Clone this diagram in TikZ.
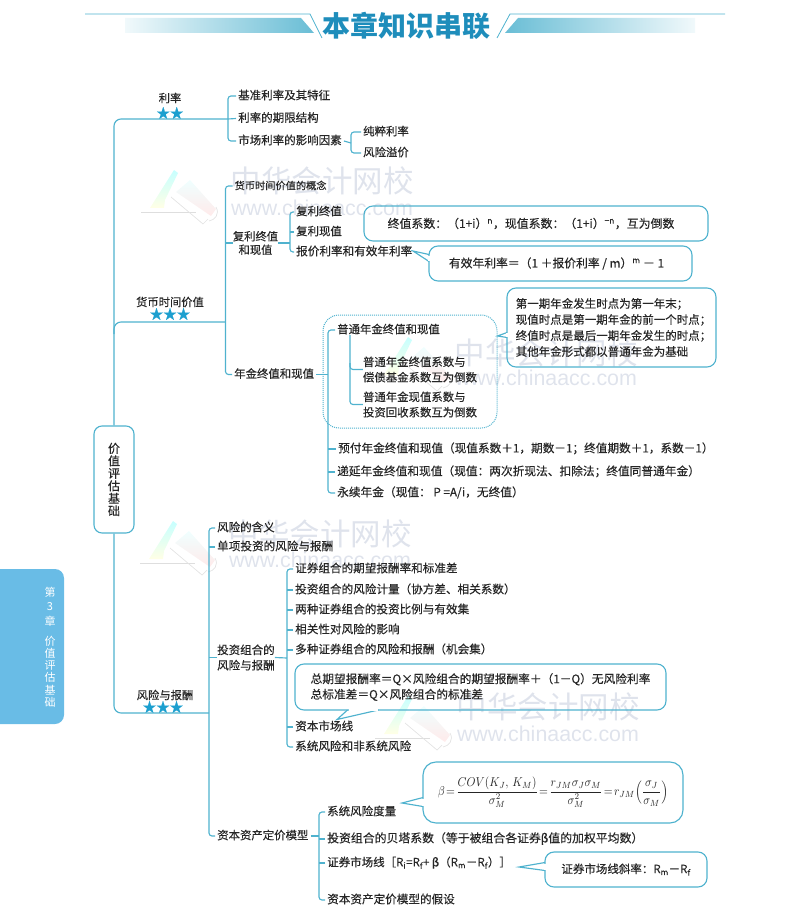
\documentclass[tikz,border=0pt]{standalone}
\usepackage{fontspec}
\usepackage{graphicx}
\usetikzlibrary{calc}
\setmainfont{Noto Sans CJK SC}[RawFeature={embolden=0.3}]
\newfontfamily\wmfont{Liberation Sans}
\newfontfamily\wmcnfont{Noto Sans CJK SC}
\definecolor{ln}{HTML}{4FB2CE}
\definecolor{ink}{HTML}{262626}
\definecolor{titleblue}{HTML}{1E8DBB}
\definecolor{starblue}{HTML}{1C9FCF}
\definecolor{tabblue}{HTML}{69BCE6}
\definecolor{wm}{HTML}{DFE3EC}
\newcommand{\fsz}[1]{\fontsize{#1}{#1}\selectfont}
\newcommand{\wmlogo}[2]{%
  \begin{scope}[shift={(#1,#2)}]
    \shade[top color=cyan!22!white,bottom color=yellow!10!white] (33,-1) -- (37,2) -- (24,29) -- (23,37) -- (9,37) -- cycle;
    \shade[top color=cyan!6!white,bottom color=red!8!white] (49,9) -- (75,38) -- (70,45) -- (35,21) -- cycle;
    \draw[black!13,line width=.7pt] (0,41) -- (55,41);
    \draw[black!11,line width=.7pt] (30,26) -- (62,53) -- (67,48);
    \draw[black!11,line width=.7pt] (75,36) .. controls (79,43) and (74,49) .. (68,50);
  \end{scope}}
\tikzset{
  ln/.style={draw=ln,line width=1.15pt},
  fork/.style={ln,rounded corners=3pt},
  trunk/.style={ln,rounded corners=7pt},
  txt/.style={anchor=west,inner xsep=2pt,inner ysep=0pt,xshift=-2pt,text=ink,font=\fsz{#1},text height=.82em,text depth=.14em},
  txt/.default=11.3,
  multi/.style={inner sep=0pt,text=ink,font=\fontsize{#1}{15.4}\selectfont},
  multi/.default=11.3,
  box/.style={draw=ln,line width=1.15pt,rounded corners=9pt,inner sep=0pt,text=ink},
  stars/.style={inner sep=0pt,text=starblue,font=\fsz{13.5}},
  head/.style={inner sep=0pt,text=ink,font=\fsz{#1}},
  head/.default=11.3,
  wmcn/.style={inner sep=0pt,text=wm,font=\wmcnfont\fsz{30.5}},
  wmen/.style={inner sep=0pt,text=wm,font=\wmfont\fsz{21.4}},
  tabtxt/.style={inner sep=0pt,text=white,font=\fsz{11}}
}
\begin{document}
\begin{tikzpicture}[x=1pt,y=-1pt]
\useasboundingbox (0,0) rectangle (791,909);
% ---- watermarks
\wmlogo{141}{171}\wmlogo{140}{522}\wmlogo{375}{338}\wmlogo{375}{697}
\node[wmcn] (wm1) at (322,181) {中华会计网校};
\node[wmen] (we1) at (322,208) {www.chinaacc.com};
\node[wmcn] (wm2) at (320,534) {中华会计网校};
\node[wmen] (we2) at (320,560) {www.chinaacc.com};
\node[wmcn] (wm3) at (546,353) {中华会计网校};
\node[wmen] (we3) at (546,378) {www.chinaacc.com};
\node[wmcn] (wm4) at (548,707) {中华会计网校};
\node[wmen] (we4) at (548,734) {www.chinaacc.com};
% ---- title band
\draw[ln,line width=.8pt] (85,14) -- (310,14) -- (322,38);
\draw[ln,line width=.8pt] (725,14) -- (510,14) -- (497,38);
\shade[left color=ln!8!white,right color=ln!85!white] (125,18) -- (301,18) -- (314,33) -- (125,33) -- cycle;
\shade[left color=ln!85!white,right color=ln!8!white] (505,33) -- (518,18) -- (695,18) -- (695,33) -- cycle;
\node[inner sep=0pt,text=titleblue,font=\wmcnfont\fsz{28}\bfseries] (title) at (406.5,26) {本章知识串联};
% ---- side tab
\fill[tabblue,rounded corners=9pt] (-12,569) rectangle (64,724);
\foreach \n/\c/\yy in {a/第/592,b/3/607,c/章/621,d/价/641,e/值/653,f/评/665,g/估/677,h/基/690,i/础/702}
  \node[tabtxt,font=\wmcnfont\fsz{11}] (tab\n) at (50,\yy) {\c};
% ---- root
\node[box,rounded corners=8pt,minimum width=40pt,minimum height=107pt,align=center,font=\fontsize{12}{12.5}\selectfont] (root) at (114,479.5) {价\\值\\评\\估\\基\\础};
% ---- level 1 labels
\node[head] (lv1a) at (170,98) {利率};
\node[stars] (sa) at (170,113) {★★};
\node[head] (lv1b) at (170,302) {货币时间价值};
\node[stars] (sb) at (170,314) {★★★};
\node[head] (lv1c) at (165,695) {风险与报酬};
\node[stars] (sc) at (163,707) {★★★};
\coordinate (br1) at (228,119);
\coordinate (br2) at (225.5,322);
\coordinate (br3) at (209,713);
\coordinate (t2) at (114,334);
\draw[trunk] (root.north) |- (br1);
\draw[trunk] (t2) |- (br2);
\draw[trunk] (root.south) |- (br3);
% ---- 利率
\node[txt=11.5] (a1) at (238,96) {基准利率及其特征};
\node[txt=11.5] (a2) at (238,118.5) {利率的期限结构};
\node[txt=11.5] (a3) at (238,141) {市场利率的影响因素};
\node[txt=11.4] (a4) at (363,132) {纯粹利率};
\node[txt=11.4] (a5) at (363,153) {风险溢价};
\draw[fork] (a1.west) -| (br1) |- (a3.west);
\draw[ln] (a2.west) -- (br1);
\coordinate (bra) at (351,143);
\draw[fork] (a4.west) -| (bra) |- (a5.west);
\draw[ln] (a3.east) -- (bra);
% ---- 货币时间价值
\node[txt=10.2] (b1) at (234.5,186) {货币时间价值的概念};
\node[multi=11.3,align=center,font=\fontsize{11.3}{13.5}\selectfont] (b2) at (255.5,243) {复利终值\\和现值};
\node[txt=11.4] (b3) at (234,374.5) {年金终值和现值};
\draw[fork] (b1.west) -| (br2) |- (b3.west);
\coordinate (b2t) at (225.5,243);
\draw[ln] (b2t) -- (b2.west);
\coordinate (brb) at (290,232);
\node[txt=11.4] (b21) at (296,212) {复利终值};
\node[txt=11.4] (b22) at (296,232) {复利现值};
\node[txt=11.6] (b23) at (296,252) {报价利率和有效年利率};
\draw[fork] (b21.west) -| (brb) |- (b23.west);
\draw[ln] (b22.west) -- (brb);
\draw[ln] (b2.east) -- (b2.east -| brb);
\node[box,minimum width=344pt,minimum height=35pt,font=\fsz{11.9}] (bx1) at (536,223.5) {\hspace*{-10pt}终值系数：（1+i）\textsuperscript{n}，现值系数：（1+i）\textsuperscript{−n}，互为倒数};
\node[box,minimum width=263pt,minimum height=35pt,font=\fsz{11.8}] (bx2) at (560.5,263.5) {\hspace*{-8pt}有效年利率＝（1 ＋报价利率 / m）\textsuperscript{m} － 1};
\coordinate (p2) at (413,251);
\draw[ln] ($(bx2.west)+(.6,-9)$) -- (p2) -- ($(bx2.west)+(.6,-2)$);
\draw[white,line width=1.5pt] ($(bx2.west)+(.6,-8)$) -- ($(bx2.west)+(.6,-3)$);
% ---- 年金
\node[draw=ln,line width=1pt,densely dotted,rounded corners=16pt,minimum width=174pt,minimum height=113pt,inner sep=0pt] (dot) at (410,371.5) {};
\node[txt=11.4] (c1) at (337,330) {普通年金终值和现值};
\node[multi=11.4,align=left] (c2) at (420,369.5) {普通年金终值系数与\\偿债基金系数互为倒数};
\node[multi=11.4,align=left] (c3) at (420,404.5) {普通年金现值系数与\\投资回收系数互为倒数};
\node[txt=11.65] (c4) at (338,449) {预付年金终值和现值（现值系数＋1，期数－1；终值期数＋1，系数－1）};
\node[txt=11.7] (c5) at (337,472) {递延年金终值和现值（现值：两次折现法、扣除法；终值同普通年金）};
\node[txt=11.7] (c6) at (337,493) {永续年金（现值： P =A/i，无终值）};
\coordinate (brc) at (328,400);
\draw[fork] (c1.west) -| (brc) |- (c6.west);
\draw[ln] (c4.west) -- (c4.west -| brc);
\draw[ln] (c5.west) -- (c5.west -| brc);
\draw[ln] (b3.east) -- (b3.east -| brc);
\coordinate (brd) at (350,369);
\draw[fork] (c1.south -| brd) -- (brd) |- (c3.west);
\draw[fork] (brd) ++(0,-6) |- (c2.west);
\node[box,minimum width=209pt,minimum height=79pt,align=left,font=\fontsize{11.5}{16}\selectfont] (bx3) at (611.5,327.5) {\hspace*{4pt}第一期年金发生时点为第一年末；\\\hspace*{4pt}现值时点是第一期年金的前一个时点；\\\hspace*{4pt}终值时点是最后一期年金发生的时点；\\\hspace*{4pt}其他年金形式都以普通年金为基础};
\draw[ln] ($(bx3.west)+(.6,5)$) -- (dot.east |- 0,336) -- ($(bx3.west)+(.6,10)$);
\draw[white,line width=1.5pt] ($(bx3.west)+(.6,5.8)$) -- ($(bx3.west)+(.6,9.2)$);
% ---- 风险与报酬
\node[txt=11.5] (d1) at (217,528) {风险的含义};
\node[txt=11.6] (d2) at (217,547) {单项投资的风险与报酬};
\node[multi=11.4,align=left,font=\fontsize{11.5}{15.4}\selectfont,anchor=west] (d3) at (217,657.5) {投资组合的\\风险与报酬};
\node[txt=11.4] (d4) at (217,836) {资本资产定价模型};
\draw[fork] (d1.west) -| (br3) |- (d4.west);
\draw[ln] (d2.west) -- (d2.west -| br3);
\draw[ln] (d3.west) -- (d3.west -| br3);
\coordinate (bre) at (287,658);
\node[txt=11.6] (e1) at (295,569) {证券组合的期望报酬率和标准差};
\node[txt=11.6] (e2) at (295,590) {投资组合的风险计量（协方差、相关系数）};
\node[txt=11.6] (e3) at (295,610) {两种证券组合的投资比例与有效集};
\node[txt=11.6] (e4) at (295,630) {相关性对风险的影响};
\node[txt=11.6] (e5) at (295,650) {多种证券组合的风险和报酬（机会集）};
\node[txt=11.6] (e6) at (295,727) {资本市场线};
\node[txt=11.6] (e7) at (295,747) {系统风险和非系统风险};
\draw[fork] (e1.west) -| (bre) |- (e7.west);
\foreach \k in {e2,e3,e4,e5,e6} \draw[ln] (\k.west) -- (\k.west -| bre);
\draw[ln] (d3.east) -- (bre);
\node[box,minimum width=371pt,minimum height=46pt,align=left,font=\fontsize{11.7}{15.5}\selectfont] (bx4) at (480.5,687) {总期望报酬率＝Q×风险组合的期望报酬率＋（1－Q）无风险利率\\总标准差＝Q×风险组合的标准差};
\coordinate (p4) at (337,719.5);
\draw[ln] ($(bx4.south)+(-133,-.6)$) -- (p4) -- ($(bx4.south)+(-102,-.6)$);
\draw[white,line width=1.5pt] ($(bx4.south)+(-132,-.6)$) -- ($(bx4.south)+(-103,-.6)$);
% ---- CAPM
\coordinate (brf) at (319,850);
\node[txt=11.5] (f1) at (327,812) {系统风险度量};
\node[txt=11.87] (f2) at (327,839) {投资组合的贝塔系数（等于被组合各证券β值的加权平均数）};
\node[txt=11.5] (f3) at (327,863) {证券市场线［R\textsubscript{i}=R\textsubscript{f}+ β（R\textsubscript{m}－R\textsubscript{f}）］};
\node[txt=11.6] (f4) at (327,900) {资本资产定价模型的假设};
\draw[fork] (f1.west) -| (brf) |- (f4.west);
\draw[ln] (f2.west) -- (f2.west -| brf);
\draw[ln] (f3.west) -- (f3.west -| brf);
\draw[ln] (d4.east) -- (d4.east -| brf);
\node[box,rounded corners=13pt,minimum width=260pt,minimum height=61pt] (bx5) at (553,792.5) {\scalebox{1.14}[1.28]{$\displaystyle \beta\!=\!\frac{COV(K_J,\,K_M)}{\sigma_M^2}\!=\!\frac{r_{JM}\sigma_J\sigma_M}{\sigma_M^2}\!=\!r_{JM}\Bigl(\frac{\sigma_J}{\sigma_M}\Bigr)$}};
\coordinate (p5) at (402,803);
\draw[ln] ($(bx5.west)+(.6,5)$) -- (p5) -- ($(bx5.west)+(.6,14)$);
\draw[white,line width=1.5pt] ($(bx5.west)+(.6,6)$) -- ($(bx5.west)+(.6,13)$);
\node[box,minimum width=162pt,minimum height=35pt,font=\fsz{11.5}] (bx6) at (626,869.5) {证券市场线斜率：R\textsubscript{m}－R\textsubscript{f}};
\coordinate (p6) at (519,867);
\draw[ln] ($(bx6.west)+(.6,-7)$) -- (p6) -- ($(bx6.west)+(.6,1)$);
\draw[white,line width=1.5pt] ($(bx6.west)+(.6,-6)$) -- ($(bx6.west)+(.6,0)$);
\end{tikzpicture}
\end{document}
